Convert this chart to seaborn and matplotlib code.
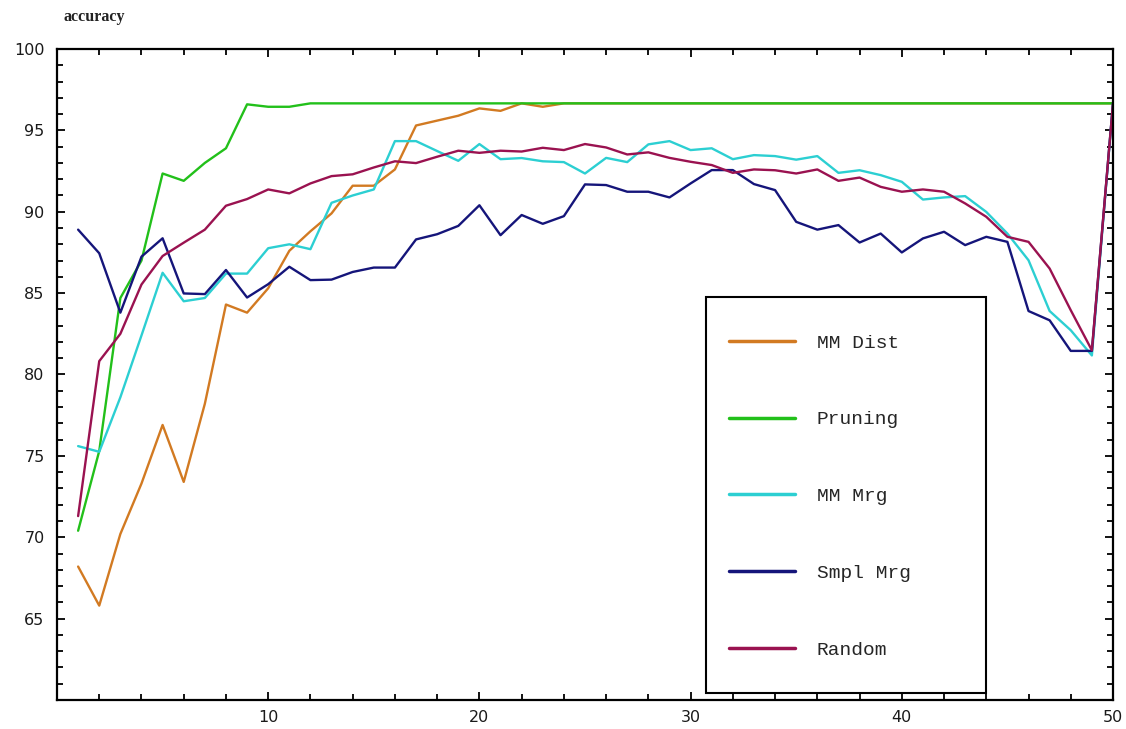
import numpy as np
import pandas as pd
import seaborn as sns
import matplotlib.pyplot as plt
from matplotlib.patches import Rectangle
from matplotlib.ticker import MultipleLocator

# x positions (1..50)
steps = list(range(1, 51))

mm_dist = [68.2, 65.8, 70.2, 73.3, 76.9, 73.4, 78.2, 84.3, 83.8, 85.3,
           87.6, 88.8, 89.9, 91.6, 91.6, 92.6, 95.3, 95.6, 95.9, 96.35,
           96.2, 96.66, 96.45, 96.66, 96.66, 96.66, 96.66, 96.66, 96.66, 96.66,
           96.66, 96.66, 96.66, 96.66, 96.66, 96.66, 96.66, 96.66, 96.66, 96.66,
           96.66, 96.66, 96.66, 96.66, 96.66, 96.66, 96.66, 96.66, 96.66, 96.66]

pruning = [70.4, 75.3, 84.7, 87.0, 92.35, 91.9, 93.0, 93.9, 96.6, 96.45,
           96.45, 96.66, 96.66, 96.66, 96.66, 96.66, 96.66, 96.66, 96.66, 96.66,
           96.66, 96.66, 96.66, 96.66, 96.66, 96.66, 96.66, 96.66, 96.66, 96.66,
           96.66, 96.66, 96.66, 96.66, 96.66, 96.66, 96.66, 96.66, 96.66, 96.66,
           96.66, 96.66, 96.66, 96.66, 96.66, 96.66, 96.66, 96.66, 96.66, 96.66]

mm_mrg = [75.6, 75.25, 78.6, 82.4, 86.25, 84.5, 84.7, 86.2, 86.2, 87.76,
          88.0, 87.7, 90.55, 91.0, 91.37, 94.34, 94.34, 93.73, 93.13, 94.16,
          93.23, 93.3, 93.1, 93.05, 92.35, 93.31, 93.05, 94.14, 94.34, 93.79,
          93.9, 93.23, 93.48, 93.42, 93.2, 93.42, 92.39, 92.55, 92.25, 91.84,
          90.75, 90.88, 90.96, 89.99, 88.66, 87.02, 83.9, 82.72, 81.17, 96.66]

smpl_mrg = [88.9, 87.45, 83.8, 87.24, 88.37, 84.98, 84.94, 86.42, 84.73, 85.55,
            86.62, 85.8, 85.83, 86.3, 86.57, 86.57, 88.3, 88.62, 89.13, 90.4,
            88.56, 89.8, 89.26, 89.73, 91.68, 91.64, 91.23, 91.23, 90.88, 91.74,
            92.56, 92.56, 91.7, 91.33, 89.38, 88.9, 89.18, 88.11, 88.66, 87.5,
            88.36, 88.77, 87.95, 88.46, 88.15, 83.9, 83.33, 81.45, 81.45, 96.66]

random_sel = [71.3, 80.82, 82.5, 85.53, 87.28, 88.1, 88.9, 90.37, 90.78, 91.37,
              91.13, 91.74, 92.19, 92.3, 92.72, 93.1, 92.99, 93.38, 93.75, 93.62,
              93.75, 93.7, 93.93, 93.79, 94.16, 93.95, 93.52, 93.65, 93.31, 93.07,
              92.87, 92.39, 92.6, 92.55, 92.35, 92.6, 91.9, 92.1, 91.53, 91.23,
              91.37, 91.23, 90.51, 89.69, 88.46, 88.15, 86.51, 83.95, 81.49, 96.66]

methods = ["MM Dist", "Pruning", "MM Mrg", "Smpl Mrg", "Random"]
colors = ["#D27A22", "#22C01A", "#2CCFD2", "#15157A", "#9A1250"]
x_labels = [10, 20, 30, 40, 50]
y_labels = [65, 70, 75, 80, 85, 90, 95, 100]

df = pd.concat([
    pd.DataFrame({"step": steps, "accuracy": vals, "method": name})
    for name, vals in zip(methods, [mm_dist, pruning, mm_mrg, smpl_mrg, random_sel])
])

sns.set_style("white")
plt.rcParams["font.family"] = ["DejaVu Sans"]

fig = plt.figure(figsize=(11.26, 7.29), dpi=100)
ax = fig.add_axes([57 / 1126, 29 / 729, 1056 / 1126, 651 / 729])

sns.lineplot(data=df, x="step", y="accuracy", hue="method", hue_order=methods,
             palette=dict(zip(methods, colors)), linewidth=1.7, ax=ax, legend=False)

ax.set_xlim(0, 50)
ax.set_ylim(60, 100)
ax.set_xticks(x_labels)
ax.set_yticks(y_labels)
ax.xaxis.set_minor_locator(MultipleLocator(2))
ax.yaxis.set_minor_locator(MultipleLocator(1))
ax.set_xlabel("")
ax.set_ylabel("")
ax.tick_params(which="both", direction="in", top=True, right=True, left=True,
               bottom=True, width=1.3, colors="black", labelcolor="#1a1a1a",
               labelsize=11.5)
ax.tick_params(which="major", length=6)
ax.tick_params(which="minor", length=4)
ax.tick_params(axis="x", pad=7)
ax.tick_params(axis="y", pad=9)
for sp in ax.spines.values():
    sp.set_visible(True)
    sp.set_color("black")
    sp.set_linewidth(1.6)

fig.text(63 / 1126, 1 - 17 / 729, "accuracy", family="Liberation Serif",
         fontweight="bold", fontsize=11.5, va="center", ha="left", color="#222222")

# legend box
ax.add_patch(Rectangle((0.6146, 0.011), 0.2652, 0.608, transform=ax.transAxes,
                       facecolor="white", edgecolor="black", linewidth=1.5, zorder=5))
handles = [plt.Line2D([], [], color=c, linewidth=2.5) for c in colors]
leg = ax.legend(handles, methods, loc="upper left", bbox_to_anchor=(0.6275, 0.577),
                frameon=False, borderpad=0, handlelength=3.4, handletextpad=1.1,
                labelspacing=3.04, prop={"family": "Liberation Mono", "size": 14})
leg.set_zorder(6)

fig.savefig("out.png", dpi=100, facecolor="white")
